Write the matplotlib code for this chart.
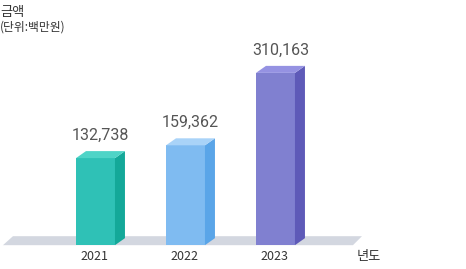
import numpy as np
import matplotlib.pyplot as plt
from matplotlib.patches import Polygon

plt.rcParams['font.family'] = ['Noto Sans CJK KR', 'DejaVu Sans']

years = ['2021', '2022', '2023']
values = [132738, 159362, 310163]
front_colors = ['#2fc1b6', '#7fbbf1', '#8080d0']
side_colors = ['#14a899', '#5aa5e8', '#5e5ab8']
top_colors = ['#4fd4c7', '#a9d3f8', '#9592e2']

fig = plt.figure(figsize=(4.66, 2.69), dpi=100)
ax = fig.add_axes([0, 0, 1, 1])
ax.set_xlim(-1.061, 4.117)
ax.set_ylim(-98100, 461900)
ax.axis('off')

x = np.arange(len(years))
width = 0.433
floor = -48500
dx = 0.111      # depth offset in x
dy = 14600      # depth offset in y

# floor slab
floor_top = floor + 18700
ax.add_patch(Polygon([(-1.028, floor), (-0.917, floor_top),
                      (2.961, floor_top), (2.861, floor)],
                     closed=True, fc='#d3d7e0', ec='none', zorder=1))

for xi, v, fc, sc, tc in zip(x, values, front_colors, side_colors, top_colors):
    left = xi - width / 2
    right = xi + width / 2
    ax.bar(xi, v - floor, width, bottom=floor, color=fc, zorder=3)
    ax.add_patch(Polygon([(right, floor), (right + dx, floor + dy),
                          (right + dx, v + dy), (right, v)],
                         closed=True, fc=sc, ec='none', zorder=3))
    ax.add_patch(Polygon([(left, v), (left + dx, v + dy),
                          (right + dx, v + dy), (right, v)],
                         closed=True, fc=tc, ec='none', zorder=3))
    ax.text(xi + dx / 2, v + dy + 17000, f'{v:,}', ha='center', va='bottom',
            fontsize=11.5, color='#555555', family=['Roboto', 'DejaVu Sans'])
    ax.text(xi - 0.01, -72000, years[xi], ha='center', va='center',
            fontsize=9, color='#333333')

ax.text(2.9, -72000, '년도', ha='left', va='center', fontsize=9.5, color='#333333')
fig.text(0.0, 0.955, '금액', ha='left', va='center', fontsize=9.5, color='#333333',
         fontweight='medium')
fig.text(0.0, 0.898, '(단위:백만원)', ha='left', va='center', fontsize=8.5, color='#333333')

fig.savefig('out.png', dpi=100)
